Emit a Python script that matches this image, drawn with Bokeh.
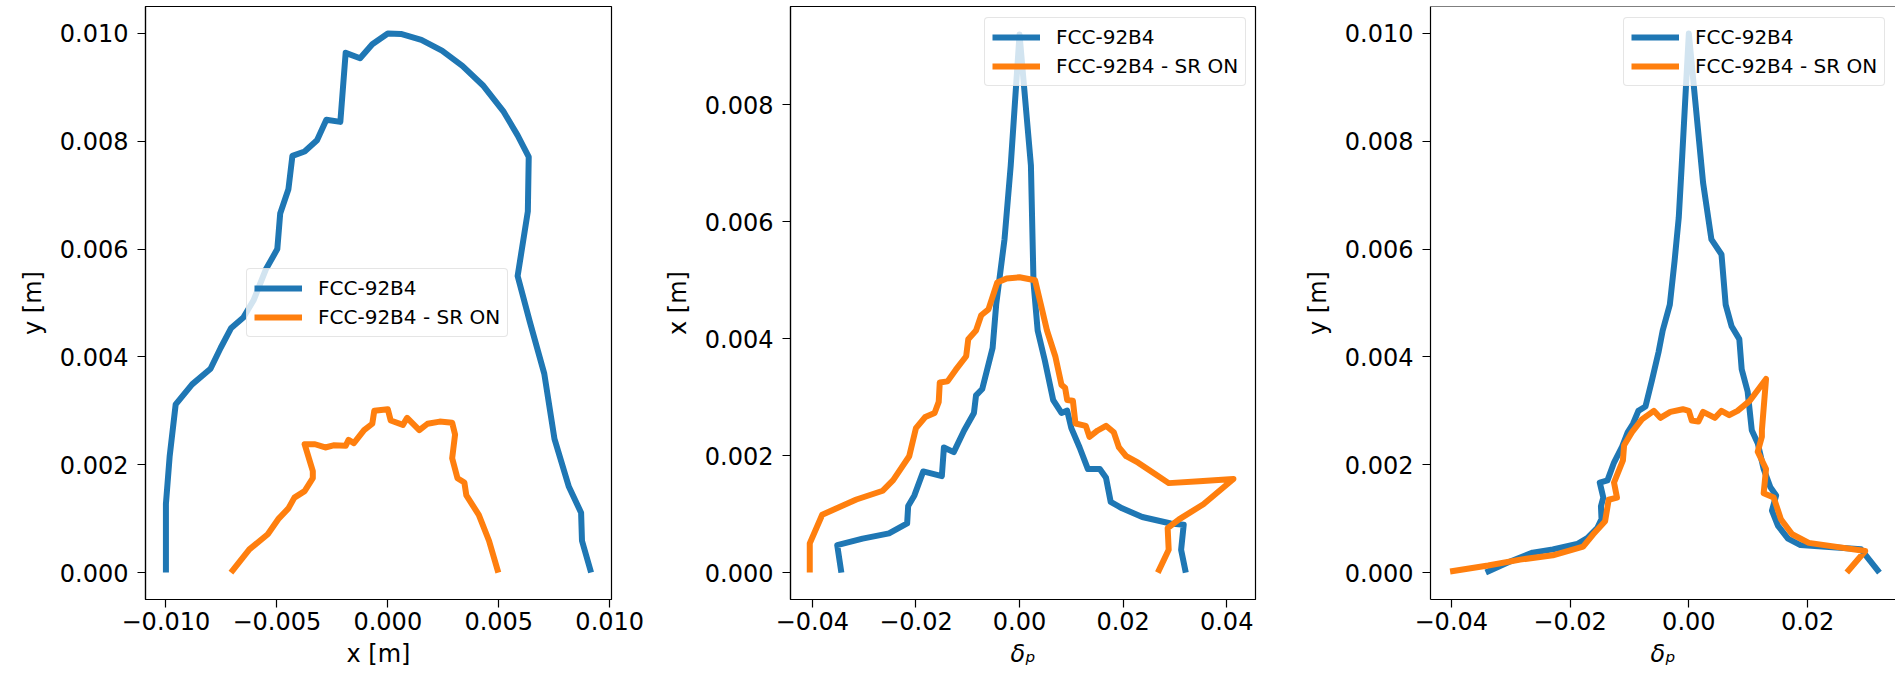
from bokeh.plotting import figure
from bokeh.layouts import row
from bokeh.models import Range1d, FixedTicker, Span
from bokeh.embed import file_html
from bokeh.resources import INLINE

# ---------------- data ----------------
SERIES = ["FCC-92B4", "FCC-92B4 - SR ON"]

# Panel 1: y [m] vs x [m]
x1_base = [-0.0100, -0.0100, -0.00983, -0.00956, -0.00882, -0.00799, -0.00753, -0.00707, -0.00651, -0.00605,
           -0.0055, -0.00498, -0.00485, -0.00448, -0.0043, -0.00375, -0.00319, -0.00277, -0.00214, -0.0019,
           -0.00125, -0.0007, 0.0, 0.00059, 0.00151, 0.00244, 0.00336, 0.00428, 0.0052, 0.00585,
           0.00635, 0.00631, 0.00585, 0.0064, 0.00705, 0.00751, 0.00816, 0.00871, 0.00875, 0.00916]
y1_base = [0.0, 0.00127, 0.00216, 0.00312, 0.00349, 0.00378, 0.00417, 0.00453, 0.00473, 0.00505,
           0.00562, 0.006, 0.00666, 0.00711, 0.00773, 0.00781, 0.00802, 0.0084, 0.00836, 0.00964,
           0.00954, 0.0098, 0.0100, 0.00999, 0.00988, 0.00968, 0.0094, 0.00904, 0.00856, 0.00811,
           0.00771, 0.0067, 0.0055, 0.00465, 0.00369, 0.00248, 0.00159, 0.00111, 0.00059, 0.0]
x1_sr = [-0.00707, -0.00624, -0.00541, -0.00494, -0.00448, -0.00421, -0.00375, -0.00338, -0.00338, -0.00375,
         -0.00328, -0.00282, -0.00245, -0.0019, -0.00177, -0.00153, -0.00107, -0.0007, -0.00061, 0.0,
         0.00013, 0.00068, 0.00087, 0.00142, 0.00179, 0.00234, 0.0029, 0.00303, 0.0029, 0.00314,
         0.00345, 0.00354, 0.0041, 0.00456, 0.00498]
y1_sr = [0.0, 0.00043, 0.00071, 0.00099, 0.00119, 0.00139, 0.00151, 0.00175, 0.00188, 0.00238,
         0.00238, 0.00232, 0.00236, 0.00235, 0.00246, 0.0024, 0.00264, 0.00276, 0.003, 0.00303,
         0.00282, 0.00274, 0.00287, 0.00264, 0.00276, 0.0028, 0.00278, 0.00256, 0.00212, 0.00175,
         0.00167, 0.00143, 0.00107, 0.00059, 0.0]

# Panel 2: x [m] vs delta_p
d2_base = [-0.0344, -0.0352, -0.0303, -0.0252, -0.0217, -0.0215, -0.0203, -0.0186, -0.015, -0.0146,
           -0.0127, -0.0107, -0.0088, -0.0084, -0.0072, -0.0052, -0.0045, -0.0029, -0.0017, 0.0,
           0.0022, 0.0027, 0.0035, 0.0049, 0.0065, 0.0081, 0.0092, 0.01, 0.0116, 0.0132,
           0.0155, 0.0167, 0.0176, 0.0198, 0.0237, 0.0292, 0.0317, 0.0312, 0.0321]
x2_base = [0.0, 0.00047, 0.00058, 0.00067, 0.00084, 0.00114, 0.00132, 0.00173, 0.00165, 0.00214,
           0.00206, 0.00243, 0.00273, 0.00303, 0.00314, 0.00384, 0.00459, 0.0057, 0.00696, 0.0092,
           0.00696, 0.00496, 0.00414, 0.00362, 0.00295, 0.00273, 0.00277, 0.00247, 0.00214, 0.00177,
           0.00177, 0.00162, 0.00121, 0.0011, 0.00095, 0.00084, 0.00082, 0.00039, 0.0]
d2_sr = [-0.0405, -0.0405, -0.0381, -0.0315, -0.0264, -0.0244, -0.0213, -0.02, -0.0182, -0.0164,
         -0.0156, -0.0154, -0.0139, -0.0123, -0.0103, -0.0099, -0.0084, -0.0074, -0.006, -0.0043,
         -0.0025, 0.0, 0.003, 0.0041, 0.0053, 0.0069, 0.0081, 0.0088, 0.0092, 0.0103,
         0.0108, 0.0128, 0.0135, 0.0151, 0.0167, 0.0182, 0.0192, 0.0206, 0.0229, 0.0261,
         0.0288, 0.0347, 0.0413, 0.0355, 0.0308, 0.0286, 0.0288, 0.0267]
x2_sr = [0.0, 0.0005, 0.00099, 0.00125, 0.0014, 0.00158, 0.00199, 0.00247, 0.00266, 0.00273,
         0.00292, 0.00325, 0.00327, 0.00347, 0.0037, 0.00399, 0.00414, 0.0044, 0.0045, 0.00496,
         0.00503, 0.00505, 0.005, 0.00459, 0.00414, 0.0037, 0.00321, 0.00316, 0.00295, 0.00294,
         0.00255, 0.00251, 0.00232, 0.00243, 0.00251, 0.0024, 0.00214, 0.00199, 0.00188, 0.00169,
         0.00153, 0.00156, 0.0016, 0.00117, 0.00091, 0.00076, 0.00039, 0.0]

# Panel 3: y [m] vs delta_p
d3_base = [-0.0342, -0.0304, -0.0263, -0.0229, -0.0188, -0.0171, -0.0154, -0.0147, -0.0148, -0.0144,
           -0.015, -0.0137, -0.0126, -0.0113, -0.0103, -0.0094, -0.0085, -0.0073, -0.0062, -0.0051,
           -0.0044, -0.0032, -0.0024, -0.0017, -0.0012, 0.0, 0.001, 0.0024, 0.0038, 0.0055,
           0.0062, 0.0072, 0.0085, 0.0089, 0.0099, 0.0106, 0.0116, 0.0126, 0.0137, 0.0147,
           0.014, 0.015, 0.0167, 0.0188, 0.029, 0.0321]
y3_base = [0.0, 0.00019, 0.00037, 0.00043, 0.00053, 0.00064, 0.00083, 0.00099, 0.00123, 0.00139,
           0.00167, 0.00171, 0.00204, 0.00232, 0.0026, 0.00276, 0.003, 0.00308, 0.00357, 0.00409,
           0.00449, 0.00497, 0.00578, 0.00658, 0.00755, 0.01, 0.00884, 0.00723, 0.00618, 0.0059,
           0.00497, 0.00457, 0.00433, 0.00377, 0.00336, 0.00264, 0.0024, 0.00192, 0.00159, 0.00143,
           0.00115, 0.00087, 0.00063, 0.00051, 0.00043, 0.0]
d3_sr = [-0.0402, -0.0338, -0.0284, -0.0229, -0.0178, -0.0161, -0.0141, -0.0135, -0.0121, -0.0126,
         -0.0111, -0.0109, -0.0096, -0.0079, -0.0059, -0.0048, -0.0031, -0.001, 0.0, 0.0005,
         0.0016, 0.0024, 0.0044, 0.0055, 0.0068, 0.0082, 0.0103, 0.013, 0.0123, 0.0123,
         0.0116, 0.013, 0.0126, 0.0143, 0.0155, 0.0174, 0.0202, 0.0297, 0.0266]
y3_sr = [0.00002, 0.00013, 0.00024, 0.00032, 0.00048, 0.00071, 0.00095, 0.00135, 0.00139, 0.00167,
         0.00208, 0.00236, 0.0026, 0.00284, 0.003, 0.00287, 0.00298, 0.00303, 0.003, 0.00282,
         0.0028, 0.00298, 0.00287, 0.003, 0.00292, 0.003, 0.00319, 0.00359, 0.00264, 0.00252,
         0.00224, 0.00192, 0.00147, 0.00139, 0.00099, 0.00071, 0.00055, 0.0004, 0.0]

# Ticks and labels
xt1 = [-0.010, -0.005, 0.0, 0.005, 0.010]
xl1 = ["\u22120.010", "\u22120.005", "0.000", "0.005", "0.010"]
yt1 = [0.0, 0.002, 0.004, 0.006, 0.008, 0.010]
yl1 = ["0.000", "0.002", "0.004", "0.006", "0.008", "0.010"]
xt2 = [-0.04, -0.02, 0.0, 0.02, 0.04]
xl2 = ["\u22120.04", "\u22120.02", "0.00", "0.02", "0.04"]
yt2 = [0.0, 0.002, 0.004, 0.006, 0.008]
yl2 = ["0.000", "0.002", "0.004", "0.006", "0.008"]
xt3 = [-0.04, -0.02, 0.0, 0.02]
xl3 = ["\u22120.04", "\u22120.02", "0.00", "0.02"]
yt3 = yt1
yl3 = yl1

# ---------------- styling ----------------
BLUE = "#1f77b4"
ORANGE = "#ff7f0e"
FONT = "DejaVu Sans"
H = 681
LW = 6


def make_fig(width, left, right, xr, yr, xt, xl, yt, yl, xlabel, ylabel, x_italic):
    p = figure(width=width, height=H, x_range=Range1d(*xr), y_range=Range1d(*yr),
               output_backend="svg", toolbar_location=None,
               min_border_left=left, min_border_right=right,
               min_border_top=6, min_border_bottom=82)
    p.grid.visible = False
    p.background_fill_color = "white"
    p.border_fill_color = "white"
    p.outline_line_color = "black"
    p.outline_line_width = 1.2
    for ax, ticks, labels in ((p.xaxis[0], xt, xl), (p.yaxis[0], yt, yl)):
        ax.ticker = FixedTicker(ticks=ticks, minor_ticks=[])
        ax.major_label_overrides = dict(zip(ticks, labels))
        ax.major_tick_out = 8
        ax.major_tick_in = 0
        ax.major_tick_line_color = "black"
        ax.major_tick_line_width = 1.2
        ax.minor_tick_line_color = None
        ax.axis_line_color = "black"
        ax.axis_line_width = 1.2
        ax.major_label_text_font = FONT
        ax.major_label_text_font_size = "24px"
        ax.major_label_text_color = "black"
        ax.axis_label_text_font = FONT
        ax.axis_label_text_font_size = "24px"
        ax.axis_label_text_color = "black"
    p.xaxis[0].axis_label = xlabel
    p.yaxis[0].axis_label = ylabel
    p.xaxis[0].major_label_standoff = 4
    p.yaxis[0].major_label_standoff = 9
    p.xaxis[0].axis_label_standoff = 7
    p.yaxis[0].axis_label_standoff = 10
    p.xaxis[0].axis_label_text_font_style = "italic" if x_italic else "normal"
    p.yaxis[0].axis_label_text_font_style = "normal"
    return p


def style_legend(p, loc):
    lg = p.legend[0]
    lg.location = loc
    lg.margin = 0
    lg.padding = 7
    lg.spacing = 5
    lg.glyph_width = 48
    lg.glyph_height = 20
    lg.label_height = 20
    lg.label_standoff = 16
    lg.label_text_font = FONT
    lg.label_text_font_size = "20px"
    lg.label_text_color = "black"
    lg.border_line_color = "#cccccc"
    lg.border_line_width = 1
    lg.background_fill_color = "white"
    lg.background_fill_alpha = 0.8
    try:
        lg.border_radius = 4
    except Exception:
        pass


# Panel 1
p1 = make_fig(660, 145, 49, (-0.01092, 0.01008), (-0.0005, 0.0105),
              xt1, xl1, yt1, yl1, "x [m]", "y [m]", False)
p1.line(x1_base, y1_base, line_color=BLUE, line_width=LW, line_join="round", legend_label=SERIES[0])
p1.line(x1_sr, y1_sr, line_color=ORANGE, line_width=LW, line_join="round", legend_label=SERIES[1])
style_legend(p1, (101, 262))

# Panel 2
p2 = make_fig(640, 127, 45, (-0.04422, 0.04556), (-0.00046, 0.00968),
              xt2, xl2, yt2, yl2, "\u03b4\u209a", "x [m]", True)
p2.line(d2_base, x2_base, line_color=BLUE, line_width=LW, line_join="round", legend_label=SERIES[0])
p2.line(d2_sr, x2_sr, line_color=ORANGE, line_width=LW, line_join="round", legend_label=SERIES[1])
style_legend(p2, (194, 513))

# Panel 3 (right spine cut off by the image edge)
p3 = make_fig(595, 130, 0, (-0.0435, 0.0348), (-0.0005, 0.0105),
              xt3, xl3, yt3, yl3, "\u03b4\u209a", "y [m]", True)
p3.outline_line_color = None
p3.add_layout(Span(location=0.0105, dimension="width", line_color="black", line_width=1.2))
p3.line(d3_base, y3_base, line_color=BLUE, line_width=LW, line_join="round", legend_label=SERIES[0])
p3.line(d3_sr, y3_sr, line_color=ORANGE, line_width=LW, line_join="round", legend_label=SERIES[1])
style_legend(p3, (193, 513))

layout = row(p1, p2, p3)
open("out.html", "w").write(file_html(layout, INLINE, title="FCC-92B4 apertures"))
